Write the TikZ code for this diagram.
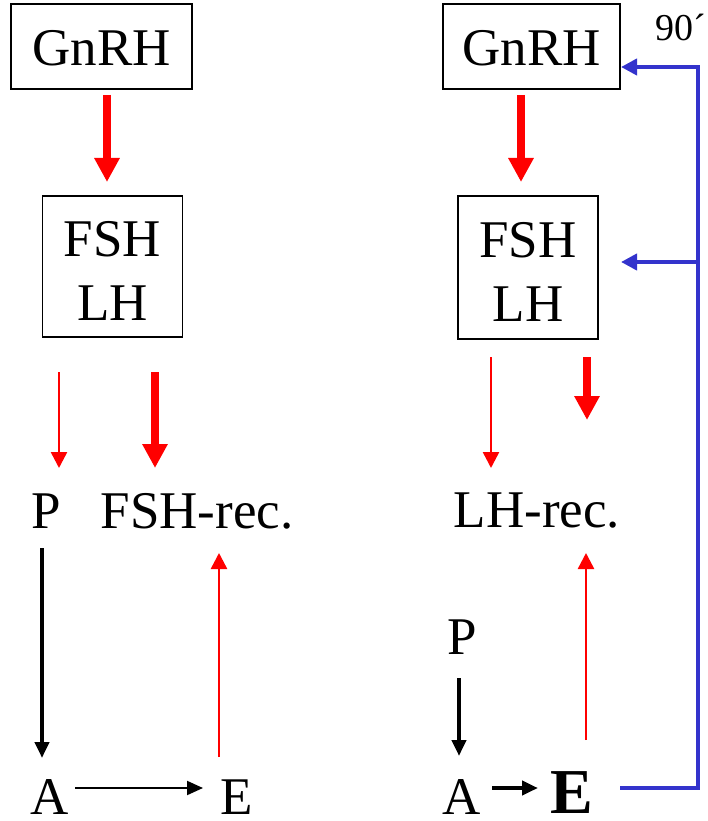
\documentclass[tikz,border=0pt]{standalone}
\usepackage{fontspec}
\setmainfont{Liberation Serif}
\usetikzlibrary{arrows.meta}
\definecolor{fbblue}{RGB}{51,51,204}
\begin{document}
\begin{tikzpicture}[x=1pt,y=-1pt,
  big/.style={font=\fontsize{53}{64}\selectfont, inner sep=0pt},
  boxn/.style={draw, line width=1.3pt, inner sep=0pt},
  thickred/.style={red, line width=8pt, -{Triangle[width=24pt,length=24pt]}},
  thinred/.style={red, line width=2.5pt, -{Triangle[width=16pt,length=16pt]}},
  blk/.style={black, line width=4pt, -{Triangle[width=14pt,length=16pt]}},
  blkthin/.style={black, line width=2pt, -{Triangle[width=14pt,length=16pt]}},
  blue/.style={fbblue, line width=4pt},
  bluearr/.style={fbblue, line width=4pt, -{Triangle[width=16pt,length=16pt]}}]
\useasboundingbox (0,0) rectangle (708,821);
% left column
\node[boxn, minimum width=181pt, minimum height=85pt] (g1) at (101.5,46.5) {};
\node[big] (g1t) at (101.5,48.5) {GnRH};
\node[boxn, minimum width=140pt, minimum height=141pt] (f1) at (112.5,266.5) {};
\node[big] (f1a) at (112.5,239) {FSH};
\node[big] (f1b) at (112.5,303) {LH};
\coordinate (a1s) at (107,95); \coordinate (a1e) at (107,182);
\draw[thickred] (a1s) -- (a1e);
\coordinate (b1s) at (59,372); \coordinate (b1e) at (59,468);
\draw[thinred] (b1s) -- (b1e);
\coordinate (c1s) at (155,372); \coordinate (c1e) at (155,468);
\draw[thickred] (c1s) -- (c1e);
\node[big] (p1) at (46,511) {P};
\node[big] (fr) at (197,511) {FSH-rec.};
\node[big] (aL) at (50,797) {A};
\node[big] (eL) at (237,797) {E};
\coordinate (d1s) at (42,548); \coordinate (d1e) at (42,758);
\draw[blk] (d1s) -- (d1e);
\coordinate (ae1) at (75,788); \coordinate (ae2) at (203,788);
\draw[blkthin] (ae1) -- (ae2);
\coordinate (r1s) at (219,757); \coordinate (r1e) at (219,553);
\draw[thinred] (r1s) -- (r1e);
% right column
\node[boxn, minimum width=177pt, minimum height=85pt] (g2) at (531.5,46.5) {};
\node[big] (g2t) at (531.5,48.5) {GnRH};
\node[boxn, minimum width=140pt, minimum height=143pt] (f2) at (528,267.5) {};
\node[big] (f2a) at (528,240) {FSH};
\node[big] (f2b) at (528,304) {LH};
\draw[thickred] (521,95) -- (521,182);
\draw[thinred] (491,357) -- (491,468);
\draw[thickred] (587,357) -- (587,420);
\node[big] (lr) at (537,511) {LH-rec.};
\draw[thinred] (586,740) -- (586,553);
\node[big] (p2) at (462,637) {P};
\draw[blk] (459,678) -- (459,756);
\node[big] (aR) at (462,797) {A};
\coordinate (ae3) at (492,788); \coordinate (ae4) at (538,788);
\draw[blk] (ae3) -- (ae4);
\node[font=\fontsize{64}{70}\selectfont\bfseries, inner sep=0pt] (eR) at (572,793) {E};
\coordinate (c1) at (698,788);
\coordinate (c2) at (698,67);
\coordinate (c3) at (698,262);
\coordinate (c0) at (620,788);
\draw[blue, line join=miter] (c0) -- (c1) -- (c2) -- (660,67);
\draw[bluearr] (c2) -- (621,67);
\draw[bluearr] (c3) -- (621,262);
\node[font=\fontsize{38}{42}\selectfont, inner sep=0pt] (n90) at (681,27) {90´};
\end{tikzpicture}
\end{document}
